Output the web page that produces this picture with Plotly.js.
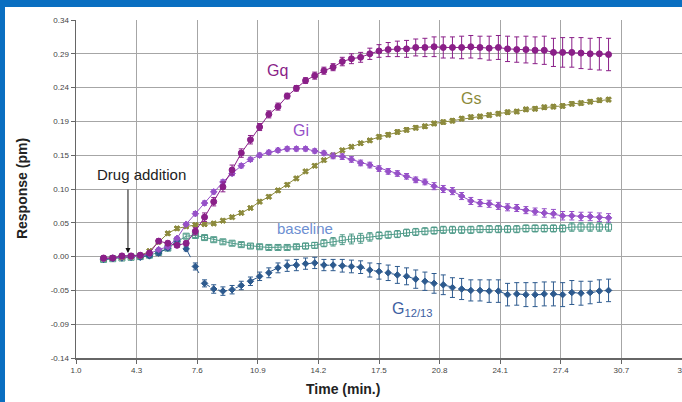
<!DOCTYPE html>
<html>
<head>
<meta charset="utf-8">
<script src="https://cdn.plot.ly/plotly-3.0.1.min.js"></script>
<style>
html,body{margin:0;padding:0;background:#0a6fc1;width:682px;height:402px;overflow:hidden;}
#chart{position:absolute;left:5px;top:7px;width:677px;height:395px;background:#fff;}
</style>
</head>
<body>
<div id="chart"></div>
<script>
// Time (min.)
const time = [2.5,3.0,3.5,4.0,4.5,5.0,5.5,6.0,6.5,7.0,7.5,8.0,8.5,9.0,9.5,10.0,10.5,11.0,11.5,12.0,
  12.5,13.0,13.5,14.0,14.5,15.0,15.5,16.0,16.5,17.0,17.5,18.0,18.5,19.0,19.5,20.0,20.5,21.0,21.5,22.0,
  22.5,23.0,23.5,24.0,24.5,25.0,25.5,26.0,26.5,27.0,27.5,28.0,28.5,29.0,29.5,30.0];

const gq = [0.002,0.002,0.005,0.005,0.006,0.009,0.026,0.023,0.020,0.023,0.040,0.060,0.082,0.103,0.127,0.151,0.170,0.188,0.206,0.217,
  0.232,0.243,0.254,0.261,0.268,0.273,0.281,0.285,0.287,0.292,0.296,0.298,0.299,0.299,0.301,0.301,0.302,0.301,0.301,0.301,
  0.302,0.301,0.300,0.301,0.299,0.298,0.298,0.297,0.297,0.294,0.294,0.294,0.293,0.292,0.292,0.291];
const gqErr = [0.003,0.003,0.003,0.003,0.003,0.003,0.003,0.003,0.003,0.003,0.005,0.006,0.006,0.007,0.007,0.006,0.006,0.005,0.005,0.005,
  0.004,0.004,0.004,0.005,0.005,0.005,0.006,0.007,0.007,0.008,0.009,0.010,0.011,0.012,0.012,0.013,0.014,0.015,0.015,0.016,
  0.016,0.016,0.017,0.017,0.018,0.018,0.019,0.019,0.020,0.020,0.021,0.021,0.022,0.022,0.023,0.023];

const gi = [0.001,0.002,0.004,0.004,0.005,0.008,0.014,0.018,0.030,0.050,0.065,0.080,0.096,0.110,0.122,0.133,0.142,0.148,0.152,0.155,
  0.157,0.157,0.157,0.154,0.151,0.147,0.146,0.142,0.137,0.134,0.129,0.125,0.122,0.118,0.113,0.110,0.104,0.100,0.097,0.090,
  0.083,0.080,0.079,0.076,0.074,0.073,0.070,0.068,0.066,0.065,0.062,0.062,0.061,0.061,0.060,0.059];
const giErr = [0.002,0.002,0.002,0.002,0.002,0.002,0.002,0.002,0.002,0.002,0.003,0.003,0.003,0.003,0.003,0.003,0.003,0.003,0.003,0.003,
  0.003,0.003,0.003,0.003,0.003,0.004,0.004,0.004,0.004,0.004,0.004,0.004,0.004,0.004,0.004,0.004,0.005,0.005,0.005,0.005,
  0.005,0.005,0.005,0.005,0.005,0.005,0.005,0.005,0.006,0.006,0.006,0.006,0.006,0.006,0.006,0.006];

const gs = [0.001,0.002,0.003,0.004,0.005,0.012,0.025,0.037,0.044,0.047,0.049,0.050,0.051,0.055,0.060,0.066,0.073,0.082,0.089,0.098,
  0.106,0.115,0.125,0.133,0.141,0.148,0.155,0.160,0.165,0.169,0.174,0.177,0.181,0.184,0.187,0.189,0.193,0.195,0.197,0.200,
  0.202,0.203,0.205,0.207,0.209,0.210,0.213,0.214,0.216,0.217,0.218,0.221,0.222,0.224,0.226,0.227];
const gsErr = [0.002,0.002,0.002,0.002,0.002,0.002,0.002,0.002,0.002,0.002,0.002,0.002,0.002,0.002,0.002,0.002,0.002,0.002,0.002,0.002,
  0.002,0.002,0.002,0.002,0.002,0.002,0.002,0.002,0.002,0.002,0.003,0.003,0.003,0.003,0.003,0.003,0.003,0.003,0.003,0.003,
  0.003,0.003,0.003,0.003,0.003,0.003,0.003,0.003,0.003,0.003,0.003,0.003,0.003,0.003,0.003,0.003];

const baseline = [0.000,0.001,0.002,0.003,0.004,0.006,0.010,0.016,0.025,0.033,0.034,0.031,0.028,0.025,0.023,0.021,0.019,0.018,0.017,0.017,
  0.017,0.018,0.019,0.020,0.023,0.025,0.028,0.029,0.030,0.032,0.034,0.035,0.036,0.038,0.039,0.040,0.041,0.042,0.042,0.042,
  0.042,0.043,0.043,0.043,0.043,0.043,0.044,0.044,0.044,0.044,0.044,0.046,0.046,0.046,0.046,0.046];
const baselineErr = [0.002,0.002,0.002,0.002,0.002,0.002,0.002,0.002,0.003,0.003,0.003,0.003,0.003,0.003,0.003,0.003,0.003,0.003,0.003,0.003,
  0.003,0.003,0.004,0.004,0.005,0.006,0.007,0.007,0.007,0.006,0.005,0.005,0.005,0.005,0.005,0.005,0.005,0.005,0.005,0.005,
  0.005,0.005,0.005,0.005,0.005,0.005,0.005,0.005,0.005,0.005,0.005,0.006,0.006,0.006,0.006,0.006];

const g1213 = [0.000,0.001,0.002,0.003,0.003,0.005,0.009,0.016,0.026,0.015,-0.010,-0.034,-0.042,-0.045,-0.043,-0.037,-0.031,-0.024,-0.019,-0.012,
  -0.009,-0.008,-0.006,-0.005,-0.008,-0.008,-0.009,-0.010,-0.011,-0.015,-0.017,-0.019,-0.022,-0.024,-0.028,-0.031,-0.034,-0.036,-0.040,-0.042,
  -0.044,-0.044,-0.045,-0.045,-0.050,-0.049,-0.050,-0.050,-0.049,-0.049,-0.050,-0.047,-0.048,-0.047,-0.045,-0.044];
const g1213Err = [0.002,0.002,0.002,0.002,0.002,0.002,0.003,0.003,0.003,0.003,0.005,0.005,0.006,0.006,0.006,0.006,0.006,0.006,0.007,0.007,
  0.008,0.008,0.008,0.008,0.008,0.008,0.009,0.009,0.009,0.010,0.011,0.011,0.012,0.012,0.013,0.013,0.014,0.014,0.014,0.015,
  0.015,0.015,0.016,0.016,0.016,0.016,0.017,0.017,0.017,0.017,0.017,0.017,0.017,0.016,0.016,0.016];

// Axis ticks
const xTickVals = [1.0,4.3,7.6,10.9,14.2,17.5,20.8,24.1,27.4,30.7,34.0];
const xTickText = ['1.0','4.3','7.6','10.9','14.2','17.5','20.8','24.1','27.4','30.7','34'];
const yTickVals = [-0.14,-0.092,-0.044,0.004,0.052,0.100,0.148,0.196,0.244,0.292,0.34];
const yTickText = ['-0.14','-0.09','-0.05','0.00','0.05','0.10','0.15','0.19','0.24','0.29','0.34'];

const colors = {gq:'#8a1f88', gi:'#9650c8', gs:'#8c8a3c', baseline:'#4e9a88', g1213:'#2d5a8e'};

function tr(y, err, color, symbol, size, dash, name){
  return {
    x: time, y: y, name: name, type:'scatter', mode:'lines+markers',
    line:{color: color, width:1, dash: dash},
    marker:{color: color, symbol: symbol, size: size, line:{color: color, width:1}},
    error_y:{type:'data', array: err, visible:true, color: color, thickness:1, width:2.5}
  };
}

const data = [
  tr(baseline, baselineErr, colors.baseline, 'square-open', 6, 'solid', 'baseline'),
  tr(g1213, g1213Err, colors.g1213, 'diamond', 5, 'dash', 'G12/13'),
  tr(gs, gsErr, colors.gs, 'x', 5, 'solid', 'Gs'),
  tr(gi, giErr, colors.gi, 'diamond', 5, 'solid', 'Gi'),
  tr(gq, gqErr, colors.gq, 'circle', 6, 'solid', 'Gq')
];

const fam = 'Liberation Sans, Arial, sans-serif';
const tickFont = {family:fam, size:8, color:'#444'};
const layout = {
  width:677, height:395,
  margin:{l:71, r:0, t:12.5, b:43.5, pad:0},
  paper_bgcolor:'#ffffff', plot_bgcolor:'#ffffff',
  showlegend:false,
  xaxis:{range:[1,34], tickvals:xTickVals, ticktext:xTickText, showgrid:true, gridcolor:'#a6a6a6', gridwidth:1,
    showline:true, linecolor:'#666', linewidth:1.5, ticks:'outside', ticklen:4, tickcolor:'#666',
    tickfont:tickFont, zeroline:false, ticklabeloverflow:'allow'},
  yaxis:{range:[-0.14,0.34], tickvals:yTickVals, ticktext:yTickText, showgrid:true, gridcolor:'#a6a6a6', gridwidth:1,
    showline:true, linecolor:'#666', linewidth:1.5, ticks:'outside', ticklen:4, tickcolor:'#666',
    tickfont:tickFont, zeroline:false},
  annotations:[
    {xref:'paper', yref:'paper', x:0.4406, y:-0.093, xanchor:'center', yanchor:'middle', showarrow:false,
      text:'<b>Time (min.)</b>', font:{family:fam, size:14, color:'#222'}},
    {xref:'paper', yref:'paper', x:-0.089, y:0.5, xanchor:'center', yanchor:'middle', showarrow:false, textangle:-90,
      text:'<b>Response (pm)</b>', font:{family:fam, size:14, color:'#222'}},
    {x:4.54, y:0.121, showarrow:false, text:'Drug addition', font:{family:fam, size:15, color:'#222'}},
    {x:3.83, y:0.009, ax:0, ay:-65, showarrow:true, arrowhead:2, arrowsize:1, arrowwidth:1, arrowcolor:'#111', text:'', standoff:0},
    {x:11.95, y:0.2685, showarrow:false, text:'Gq', font:{family:fam, size:16, color:colors.gq}},
    {x:13.25, y:0.1835, showarrow:false, text:'Gi', font:{family:fam, size:16, color:colors.gi}},
    {x:22.51, y:0.2289, showarrow:false, text:'Gs', font:{family:fam, size:16, color:colors.gs}},
    {x:13.47, y:0.0434, showarrow:false, text:'baseline', font:{family:fam, size:15, color:'#6d8fd2'}},
    {x:19.3, y:-0.071, showarrow:false, text:'G<sub>12/13</sub>', font:{family:fam, size:16, color:'#3d5ea2'}}
  ]
};

Plotly.newPlot('chart', data, layout, {staticPlot:true, displayModeBar:false});
</script>
</body>
</html>
